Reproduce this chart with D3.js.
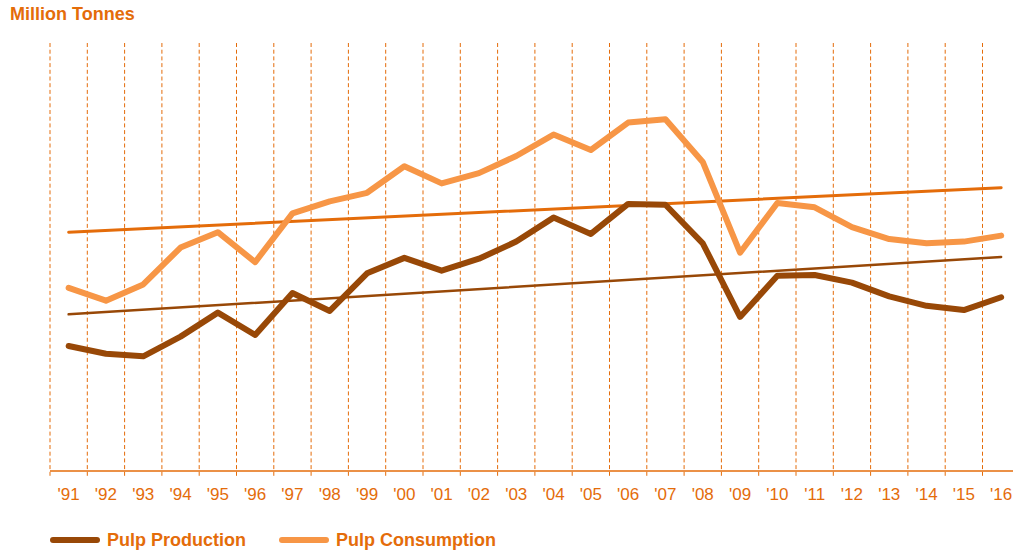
<!DOCTYPE html>
<html>
<head>
<meta charset="utf-8">
<script src="https://cdn.jsdelivr.net/npm/d3@7"></script>
<style>
  html, body { margin: 0; padding: 0; background: #fff; }
  svg { display: block; font-family: "Liberation Sans", Arial, sans-serif; }
</style>
</head>
<body>
<svg id="chart" width="1013" height="554"></svg>
<script>
// ---- data ----
const years = ["'91","'92","'93","'94","'95","'96","'97","'98","'99","'00","'01","'02","'03","'04","'05","'06","'07","'08","'09","'10","'11","'12","'13","'14","'15","'16"];
const production = [14.6,13.7,13.4,15.7,18.5,15.9,20.8,18.7,23.1,24.9,23.4,24.8,26.8,29.6,27.7,31.2,31.1,26.6,18.0,22.8,22.9,22.0,20.4,19.3,18.8,20.3];
const consumption = [21.4,19.9,21.8,26.1,27.9,24.4,30.1,31.5,32.5,35.6,33.6,34.8,36.8,39.3,37.5,40.7,41.1,36.1,25.5,31.3,30.8,28.5,27.1,26.6,26.8,27.5];
const productionTrend = [18.3, 25.0];   // value at '91 and '16
const consumptionTrend = [27.9, 33.1];  // value at '91 and '16
const seriesNames = ["Pulp Production", "Pulp Consumption"];

// ---- colours ----
const cProd = "#984807", cCons = "#F79646", cDark = "#E46C0A";

const svg = d3.select("#chart");
const W = 1013;
const plotTop = 43, plotBottom = 471, plotLeft = 50, band = 37.3;

const x = d3.scaleBand().domain(years).range([plotLeft, plotLeft + band * years.length]).padding(0);
const y = d3.scaleLinear().domain([0, 50]).range([plotBottom, plotTop]);
const cx = d => x(d) + x.bandwidth() / 2;

// vertical dashed gridlines at band edges
const edges = years.map(d => x(d));
svg.append("g").selectAll("line").data(edges).join("line")
  .attr("x1", d => d).attr("x2", d => d)
  .attr("y1", plotTop).attr("y2", plotBottom + 6)
  .attr("stroke", cDark).attr("stroke-width", 1)
  .attr("stroke-dasharray", "4,2.7");

// x axis line
svg.append("line")
  .attr("x1", plotLeft).attr("x2", W).attr("y1", plotBottom).attr("y2", plotBottom)
  .attr("stroke", cDark).attr("stroke-width", 1.5);

// tick labels via axis
const xAxis = d3.axisBottom(x).tickSize(0).tickPadding(0);
const gx = svg.append("g").attr("transform", `translate(0,${plotBottom})`).call(xAxis);
gx.select(".domain").remove();
gx.selectAll("text")
  .attr("y", 29).attr("dy", 0)
  .attr("fill", cDark)
  .style("font-size", "17px")
  .style("font-family", "'Liberation Sans', Arial, sans-serif");

// trend lines
function trend(vals, color, w) {
  svg.append("line")
    .attr("x1", cx(years[0])).attr("x2", cx(years[years.length - 1]))
    .attr("y1", y(vals[0])).attr("y2", y(vals[1]))
    .attr("stroke", color).attr("stroke-width", w).attr("stroke-linecap", "round");
}
trend(consumptionTrend, cDark, 3);
trend(productionTrend, cProd, 2.5);

// series lines
const line = d3.line().x((d, i) => cx(years[i])).y(d => y(d)).curve(d3.curveLinear);
svg.append("path").datum(consumption).attr("d", line)
  .attr("fill", "none").attr("stroke", cCons).attr("stroke-width", 6)
  .attr("stroke-linejoin", "round").attr("stroke-linecap", "round");
svg.append("path").datum(production).attr("d", line)
  .attr("fill", "none").attr("stroke", cProd).attr("stroke-width", 6)
  .attr("stroke-linejoin", "round").attr("stroke-linecap", "round");

// title
svg.append("text").attr("x", 10).attr("y", 20)
  .attr("fill", cDark).style("font-size", "18px").style("font-weight", "bold")
  .text("Million Tonnes");

// legend
const legend = [
  { name: seriesNames[0], color: cProd, x: 53 },
  { name: seriesNames[1], color: cCons, x: 282 }
];
const lg = svg.append("g").selectAll("g").data(legend).join("g");
lg.append("line")
  .attr("x1", d => d.x).attr("x2", d => d.x + 44)
  .attr("y1", 540).attr("y2", 540)
  .attr("stroke", d => d.color).attr("stroke-width", 6).attr("stroke-linecap", "round");
lg.append("text")
  .attr("x", d => d.x + 54).attr("y", 546)
  .attr("fill", cDark).style("font-size", "18px").style("font-weight", "bold")
  .text(d => d.name);
</script>
</body>
</html>
